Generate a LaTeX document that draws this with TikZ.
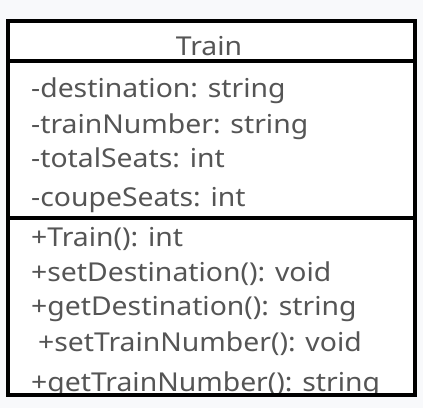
\documentclass[tikz,border=0pt]{standalone}
\usepackage{fontspec}
\setmainfont{Noto Sans}
\definecolor{bgcol}{HTML}{F8F9FB}
\definecolor{txtcol}{HTML}{555555}
\newcommand{\wide}[1]{\scalebox{1.09}[1]{#1}}
\begin{document}
\begin{tikzpicture}[x=1pt,y=-1pt,
  member/.style={anchor=base west,inner sep=0pt,text=txtcol,font=\fontsize{26}{30}\selectfont},
  title/.style={anchor=base,inner sep=0pt,text=txtcol,font=\fontsize{26}{30}\selectfont},
  boxline/.style={line width=3.4pt,black}]
\fill[bgcol] (0,0) rectangle (423,408);
\useasboundingbox (0,0) rectangle (423,408);
\fill[white] (8,21) rectangle (415,395);
\node[title] (t) at (209,55.7) {\wide{Train}};
\node[member] (a1) at (31,97.3) {\wide{-destination: string}};
\node[member] (a2) at (31,133.3) {\wide{-trainNumber: string}};
\node[member] (a3) at (31,167.3) {\wide{-totalSeats: int}};
\node[member] (a4) at (31,206.7) {\wide{-coupeSeats: int}};
\node[member] (m1) at (31,246) {\wide{+Train(): int}};
\node[member] (m2) at (31,281) {\wide{+setDestination(): void}};
\node[member] (m3) at (31,315.7) {\wide{+getDestination(): string}};
\node[member] (m4) at (38,351.7) {\wide{+setTrainNumber(): void}};
\node[member] (m5) at (31,391.5) {\wide{+getTrainNumber(): string}};
\fill[white] (8,395) rectangle (415,408);
\fill[bgcol] (6,396.4) rectangle (417,408);
\draw[boxline] (8,21) rectangle (415,395);
\draw[boxline] (8,61) -- (415,61);
\draw[boxline] (8,218) -- (415,218);
\end{tikzpicture}
\end{document}
